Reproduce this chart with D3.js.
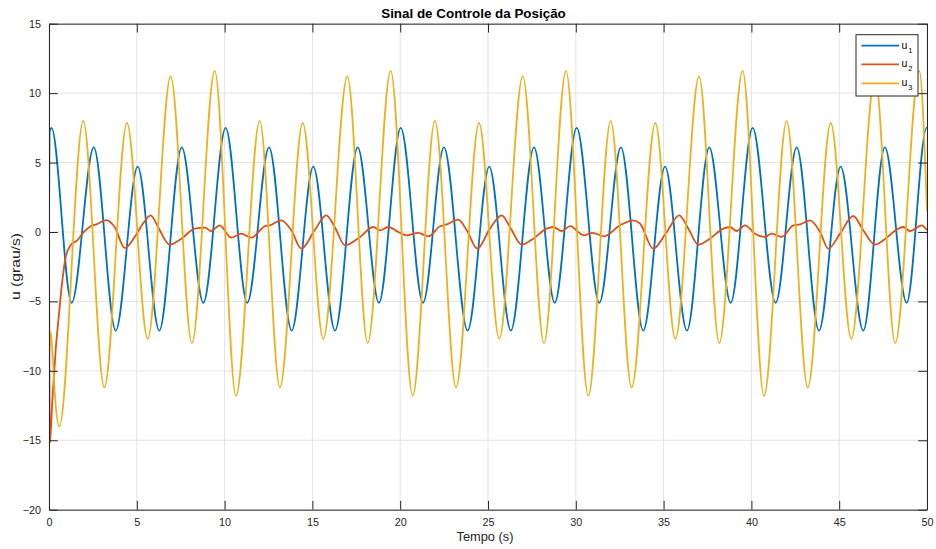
<!DOCTYPE html>
<html>
<head>
<meta charset="utf-8">
<script src="https://cdn.jsdelivr.net/npm/d3@7"></script>
<style>
  html, body { margin: 0; padding: 0; background: #fff; }
  svg { display: block; font-family: "Liberation Sans", Arial, Helvetica, sans-serif; }
</style>
</head>
<body>
<svg id="chart" width="936" height="549"></svg>
<script>
// Control signal samples (time in s, value in grau/s) at turning points of each trace
const u1Time = [0, 0.03, 0.14, 1.29, 2.55, 3.80, 5.05, 6.28, 7.56, 8.79, 10.06, 11.29, 12.53, 13.82, 15.05, 16.29,
  17.58, 18.79, 20.03, 21.30, 22.49, 23.84, 25.07, 26.30, 27.62, 28.80, 30.05, 31.34, 32.57, 33.84, 35.08,
  36.33, 37.60, 38.82, 40.07, 41.38, 42.58, 43.85, 45.08, 46.37, 47.60, 48.84, 49.98, 50];
const u1Value = [0, 7.2, 7.5, -5.1, 6.1, -7.1, 4.7, -7.1, 6.1, -5.1, 7.5, -5.1, 6.1, -7.1, 4.7, -7.1,
  6.1, -5.1, 7.5, -5.1, 6.1, -7.1, 4.7, -7.1, 6.1, -5.1, 7.5, -5.1, 6.1, -7.1, 4.7,
  -7.1, 6.1, -5.1, 7.5, -5.1, 6.1, -7.1, 4.7, -7.1, 6.1, -5.1, 7.5, 7.48];

const u2Time = [0, 0.05, 0.19, 0.38, 0.57, 0.76, 0.95, 1.23, 1.61, 1.99, 2.37, 2.70, 3.26, 3.74, 4.31, 4.88,
  5.35, 5.79, 6.21, 6.87, 7.54, 8.30, 8.87, 9.24, 9.72, 10.38, 10.95, 11.52, 12.28, 12.57, 13.23, 13.80,
  14.37, 15.13, 15.79, 16.27, 16.86, 17.71, 18.47, 18.85, 19.32, 19.89, 20.37, 21.03, 21.60, 22.27, 22.65,
  23.31, 23.79, 24.39, 25.11, 25.78, 26.25, 26.92, 27.58, 28.34, 28.72, 29.20, 29.67, 30.45, 30.95, 31.60,
  32.52, 33.27, 33.66, 34.41, 35.18, 35.89, 36.41, 36.98, 37.64, 38.40, 38.78, 39.16, 39.64, 40.20, 40.77,
  41.16, 41.72, 42.39, 42.77, 43.34, 43.91, 44.38, 45.05, 45.80, 46.37, 47.04, 47.70, 48.27, 48.65, 49.03,
  49.70, 50];
const u2Value = [0, -15.2, -12.1, -8.5, -5.9, -3.5, -1.8, -0.96, -0.6, 0, 0.41, 0.55, 0.86, 0.36, -1.15, -0.36,
  0.6, 1.2, 0.36, -0.91, -0.48, 0.24, 0.31, 0.07, 0.48, -0.41, -0.12, -0.41, 0.41, 0.48, 0.84, 0.12,
  -1.2, 0.12, 1.2, 0.36, -0.96, -0.36, 0.36, 0.12, 0.36, 0, -0.24, -0.07, -0.31, 0.41, 0.55,
  0.89, 0.12, -1.2, 0.24, 1.2, 0.36, -0.91, -0.48, 0.24, 0.36, 0.07, 0.42, -0.24, -0.06, -0.31,
  0.48, 0.84, 0.6, -1.2, 0, 1.2, 0.24, -0.91, -0.48, 0.24, 0.36, 0.07, 0.48, -0.12, -0.36,
  -0.12, -0.36, 0.48, 0.55, 0.84, 0, -1.2, -0.12, 1.15, 0.12, -0.91, -0.41, 0.17, 0.36, 0.07,
  0.48, 0.12];

const u3Time = [0, 0.02, 0.10, 0.20, 0.35, 0.59, 1.95, 3.15, 4.44, 5.62, 6.93, 8.14, 9.44, 10.65, 12.00, 13.15,
  14.45, 15.62, 16.99, 18.15, 19.46, 20.71, 21.98, 23.18, 24.49, 25.64, 26.98, 28.19, 29.44, 30.71, 31.99,
  33.18, 34.53, 35.67, 37.02, 38.17, 39.50, 40.72, 42.01, 43.21, 44.52, 45.69, 47.04, 48.19, 49.56, 50];
const u3Value = [0, -8.7, -7.2, -8.8, -12.0, -14.0, 8.0, -11.2, 7.85, -7.7, 11.2, -8.0, 11.6, -11.8, 8.0, -11.2,
  7.85, -7.7, 11.2, -8.0, 11.6, -11.8, 8.0, -11.2, 7.85, -7.7, 11.2, -8.0, 11.6, -11.8, 8.0,
  -11.2, 7.85, -7.7, 11.2, -8.0, 11.6, -11.8, 8.0, -11.2, 7.85, -7.7, 11.2, -8.0, 11.6, 1.5];

const seriesNames = ["u1", "u2", "u3"];
const seriesColors = ["#0072BD", "#D95319", "#EDB120"];
const xTicks = [0, 5, 10, 15, 20, 25, 30, 35, 40, 45, 50];
const yTicks = [-20, -15, -10, -5, 0, 5, 10, 15];

const titleText = "Sinal de Controle da Posição";
const xLabelText = "Tempo (s)";
const yLabelText = "u (grau/s)";

// ---- layout ----
const svg = d3.select("#chart");
const plotLeft = 49, plotRight = 927, plotTop = 23.7, plotBottom = 509.7;
const axisColor = "#262626";
const tickLen = 8.8;

const x = d3.scaleLinear().domain([0, 50]).range([plotLeft, plotRight]);
const y = d3.scaleLinear().domain([-20, 15]).range([plotBottom, plotTop]);

// grid
const grid = svg.append("g").attr("stroke", "#e3e3e3").attr("stroke-width", 1);
xTicks.forEach(t => grid.append("line")
  .attr("x1", x(t)).attr("x2", x(t)).attr("y1", plotTop).attr("y2", plotBottom));
yTicks.forEach(t => grid.append("line")
  .attr("x1", plotLeft).attr("x2", plotRight).attr("y1", y(t)).attr("y2", y(t)));

// traces
const series = [
  { name: seriesNames[0], color: seriesColors[0], pts: u1Time.map((t, i) => [t, u1Value[i]]) },
  { name: seriesNames[1], color: seriesColors[1], pts: u2Time.map((t, i) => [t, u2Value[i]]) },
  { name: seriesNames[2], color: seriesColors[2], pts: u3Time.map((t, i) => [t, u3Value[i]]) }
];
const line = d3.line().x(d => x(d[0])).y(d => y(d[1])).curve(d3.curveMonotoneX);

svg.append("clipPath").attr("id", "plotClip")
  .append("rect").attr("x", plotLeft).attr("y", plotTop)
  .attr("width", plotRight - plotLeft).attr("height", plotBottom - plotTop);

const traces = svg.append("g").attr("clip-path", "url(#plotClip)");
series.forEach(s => traces.append("path")
  .attr("d", line(s.pts))
  .attr("fill", "none")
  .attr("stroke", s.color)
  .attr("stroke-width", 1.8)
  .attr("stroke-linejoin", "round"));

// axes (ticks pointing inward, mirrored on all four sides)
const axBottom = d3.axisBottom(x).tickValues(xTicks).tickSizeInner(-tickLen).tickSizeOuter(0).tickPadding(9);
const axTop = d3.axisTop(x).tickValues(xTicks).tickSizeInner(-tickLen).tickSizeOuter(0).tickFormat("");
const axLeft = d3.axisLeft(y).tickValues(yTicks).tickSizeInner(-tickLen).tickSizeOuter(0).tickPadding(8);
const axRight = d3.axisRight(y).tickValues(yTicks).tickSizeInner(-tickLen).tickSizeOuter(0).tickFormat("");

function styleAxis(g) {
  g.select(".domain").attr("stroke", axisColor).attr("stroke-width", 1);
  g.selectAll(".tick line").attr("stroke", axisColor).attr("stroke-width", 1);
  g.selectAll(".tick text").attr("fill", axisColor).attr("font-size", "10.8px")
    .style("font-family", "'Liberation Sans', Arial, sans-serif");
}
svg.append("g").attr("transform", `translate(0,${plotBottom})`).call(axBottom).call(styleAxis);
svg.append("g").attr("transform", `translate(0,${plotTop})`).call(axTop).call(styleAxis);
svg.append("g").attr("transform", `translate(${plotLeft},0)`).call(axLeft).call(styleAxis);
svg.append("g").attr("transform", `translate(${plotRight},0)`).call(axRight).call(styleAxis);

// titles
svg.append("text").attr("x", 473.5).attr("y", 18.3).attr("text-anchor", "middle")
  .attr("font-size", "13.4px").attr("font-weight", "bold").attr("fill", "#000").text(titleText);
svg.append("text").attr("x", 485).attr("y", 541).attr("text-anchor", "middle")
  .attr("font-size", "12.8px").attr("fill", axisColor).text(xLabelText);
svg.append("text").attr("transform", `translate(19.5,266.5) rotate(-90)`)
  .attr("text-anchor", "middle").attr("font-size", "12.8px").attr("fill", axisColor)
  .attr("textLength", 67).attr("lengthAdjust", "spacingAndGlyphs").text(yLabelText);

// legend
const lg = svg.append("g");
lg.append("rect").attr("x", 856).attr("y", 34.7).attr("width", 62).attr("height", 61.3)
  .attr("fill", "#fff").attr("stroke", axisColor).attr("stroke-width", 1);
const rowY = [45.7, 64.3, 83.3];
series.forEach((s, i) => {
  lg.append("line").attr("x1", 861.5).attr("x2", 899).attr("y1", rowY[i]).attr("y2", rowY[i])
    .attr("stroke", s.color).attr("stroke-width", 1.8);
  const t = lg.append("text").attr("x", 901.5).attr("y", rowY[i] + 3).attr("font-size", "10.5px").attr("fill", "#000");
  t.append("tspan").text(s.name.charAt(0));
  t.append("tspan").attr("dy", 4).attr("dx", 1).attr("font-size", "7.5px").text(s.name.slice(1));
});
</script>
</body>
</html>
